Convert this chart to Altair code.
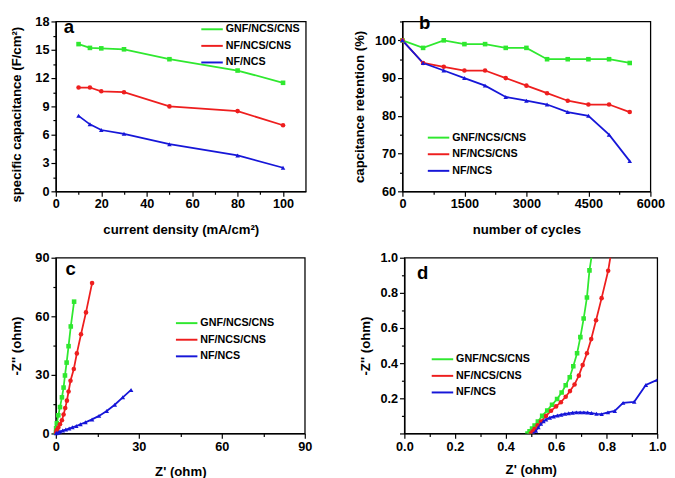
import altair as alt
import pandas as pd

SERIES = ["GNF/NCS/CNS", "NF/NCS/CNS", "NF/NCS"]
COLORS = ["#2fe82f", "#ee1e1e", "#1616d8"]
SHAPES = ["square", "circle", "triangle-up"]
FONT = "Liberation Sans"

# ---------------- panel a ----------------
a_x = [10, 15, 20, 30, 50, 80, 100]
a_gnf = [15.6, 15.2, 15.15, 15.05, 14.0, 12.8, 11.5]
a_nfcns = [11.0, 11.0, 10.6, 10.5, 9.0, 8.5, 7.0]
a_nf = [8.0, 7.1, 6.5, 6.1, 5.0, 3.8, 2.5]

# ---------------- panel b ----------------
b_x = [0, 500, 1000, 1500, 2000, 2500, 3000, 3500, 4000, 4500, 5000, 5500]
b_gnf = [100, 98, 100, 99, 99, 98, 98, 95, 95, 95, 95, 94]
b_nfcns = [100, 94, 93, 92, 92, 90, 88, 86, 84, 83, 83, 81]
b_nf = [100, 94, 92, 90, 88, 85, 84, 83, 81, 80, 75, 68]

# ---------------- panel c ----------------
c_gnf_x = [0.05, 0.1, 0.35, 0.9, 1.5, 2.2, 2.8, 3.3, 3.9, 4.6, 5.4, 6.6]
c_gnf_y = [0.5, 2.7, 5.2, 9.3, 13.5, 18.5, 23.5, 29.7, 36.3, 44.7, 54.8, 67.5]
c_nfcns_x = [0.1, 0.35, 0.9, 1.5, 2.2, 2.8, 3.4, 4.0, 4.6, 5.3, 6.5, 7.6, 9.1, 10.9, 13.1]
c_nfcns_y = [0.5, 1.7, 3.0, 4.7, 6.8, 9.7, 13.0, 16.8, 21.5, 27.0, 33.0, 41.0, 50.8, 62.0, 77.0]
c_nf_x = [0.1, 0.3, 0.9, 1.5, 2.5, 3.6, 4.8, 6.0, 7.4, 8.9, 10.7, 13.1, 15.6, 18.4, 21.3, 24.2, 27.2]
c_nf_y = [0.1, 0.2, 0.5, 1.0, 1.5, 2.0, 2.5, 3.2, 3.8, 4.7, 5.7, 7.2, 9.0, 11.5, 14.7, 18.5, 22.3]

# ---------------- panel d ----------------
d_gnf_x = [0.487, 0.495, 0.505, 0.515, 0.528, 0.545, 0.565, 0.584, 0.604, 0.622, 0.638,
           0.654, 0.668, 0.683, 0.696, 0.709, 0.722, 0.732, 0.745]
d_gnf_y = [0.0, 0.012, 0.028, 0.045, 0.068, 0.10, 0.131, 0.163, 0.196, 0.233, 0.274,
           0.320, 0.382, 0.456, 0.548, 0.654, 0.774, 0.928, 1.05]
d_nfcns_x = [0.50, 0.507, 0.515, 0.527, 0.54, 0.56, 0.58, 0.60, 0.619, 0.638, 0.655,
             0.673, 0.690, 0.705, 0.722, 0.739, 0.758, 0.780, 0.806, 0.82]
d_nfcns_y = [0.0, 0.012, 0.027, 0.047, 0.068, 0.10, 0.129, 0.154, 0.178, 0.209, 0.241,
             0.279, 0.329, 0.389, 0.456, 0.537, 0.644, 0.77, 0.926, 1.05]
d_nf_x = [0.51, 0.52, 0.53, 0.54, 0.55, 0.56, 0.575, 0.59, 0.605, 0.62, 0.635, 0.65, 0.665,
          0.68, 0.695, 0.71, 0.725, 0.74, 0.76, 0.78, 0.805, 0.832, 0.865, 0.909, 0.955, 1.0]
d_nf_y = [0.0, 0.015, 0.035, 0.055, 0.07, 0.08, 0.09, 0.097, 0.102, 0.107, 0.112, 0.115, 0.118,
          0.12, 0.12, 0.12, 0.119, 0.116, 0.112, 0.11, 0.12, 0.128, 0.174, 0.18, 0.276, 0.305]

# tick values (major + minor)
a_xticks = [0, 10, 20, 30, 40, 50, 60, 70, 80, 90, 100]
a_yticks = [0, 1.5, 3, 4.5, 6, 7.5, 9, 10.5, 12, 13.5, 15, 16.5, 18]
b_xticks = [0, 750, 1500, 2250, 3000, 3750, 4500, 5250, 6000]
b_yticks = [60, 65, 70, 75, 80, 85, 90, 95, 100, 105]
c_ticks = [0, 15, 30, 45, 60, 75, 90]
d_ticks = [0, 0.1, 0.2, 0.3, 0.4, 0.5, 0.6, 0.7, 0.8, 0.9, 1.0]


def long(xs_list, ys_list):
    rows = []
    for i, s in enumerate(SERIES):
        for j, (x, y) in enumerate(zip(xs_list[i], ys_list[i])):
            rows.append({"series": s, "x": x, "y": y, "order": j})
    return pd.DataFrame(rows)


def axis(title, values, minor, fmt, tpad, hide_zero=False, title_y=None):
    major = f"round(datum.value/{minor}) % 2 === 0"
    lab = f"({major}) ? datum.label : ''"
    if hide_zero:
        lab = f"({major} && datum.value > 0.001) ? datum.label : ''"
    kw = {}
    if title_y is not None:
        kw["titleY"] = title_y
    return alt.Axis(
        title=title, values=values, format=fmt, labelExpr=lab,
        tickSize={"condition": {"test": major, "value": 5}, "value": 3},
        labelOverlap=False, labelFlush=False, titlePadding=tpad, **kw,
    )


def panel(df, xdom, ydom, xax, yax, letter, lx, ly, tx, ty, w, h, clip=False):
    color = alt.Color("series:N", scale=alt.Scale(domain=SERIES, range=COLORS),
                      legend=alt.Legend(orient="none", legendX=lx, legendY=ly, title=None,
                                        symbolType="stroke", symbolSize=484,
                                        symbolStrokeWidth=2, labelFont=FONT,
                                        labelFontSize=11, labelFontWeight="bold",
                                        labelColor="black", rowPadding=-11.5,
                                        labelOffset=2, labelLimit=300, padding=0))
    x = alt.X("x:Q", scale=alt.Scale(domain=xdom, nice=False, zero=False), axis=xax)
    y = alt.Y("y:Q", scale=alt.Scale(domain=ydom, nice=False, zero=False), axis=yax)
    base = alt.Chart(df)
    layers = [base.mark_line(strokeWidth=1.8, clip=clip).encode(
        x=x, y=y, color=color, order="order:Q")]
    for s, c, sh in zip(SERIES, COLORS, SHAPES):
        layers.append(
            base.transform_filter(alt.datum.series == s).mark_point(
                shape=sh, color=c, filled=True, size=22, opacity=1, clip=clip
            ).encode(x=x, y=y)
        )
    layers.append(alt.Chart(pd.DataFrame({"t": [letter]})).mark_text(
        font=FONT, fontSize=19, fontWeight="bold", align="left", baseline="middle",
        color="black").encode(text="t:N", x=alt.value(tx), y=alt.value(ty)))
    return alt.layer(*layers).properties(width=w, height=h)


dfa = long([a_x, a_x, a_x], [a_gnf, a_nfcns, a_nf])
dfb = long([b_x, b_x, b_x], [b_gnf, b_nfcns, b_nf])
dfc = long([c_gnf_x, c_nfcns_x, c_nf_x], [c_gnf_y, c_nfcns_y, c_nf_y])
dfd = long([d_gnf_x, d_nfcns_x, d_nf_x], [d_gnf_y, d_nfcns_y, d_nf_y])

pa = panel(dfa, [0, 110], [0, 18],
           axis("current density (mA/cm²)", a_xticks, 10, "d", 12),
           axis("specific capacitance (F/cm²)", a_yticks, 1.5, "d", 12, title_y=95),
           "a", 148, -4, 8, 6, 256, 174)
pb = panel(dfb, [0, 6000], [60, 105],
           axis("number of cycles", b_xticks, 750, "d", 12),
           axis("capcitance retention (%)", b_yticks, 5, "d", 8),
           "b", 25, 107, 17, 2, 254, 174)
pc = panel(dfc, [0, 90], [0, 90],
           axis("Z' (ohm)", c_ticks, 15, "d", 12),
           axis("-Z'' (ohm)", c_ticks, 15, "d", 12),
           "c", 122, 55, 10, 12, 255, 180)
pd_ = panel(dfd, [0, 1], [0, 1],
            axis("Z' (ohm)", d_ticks, 0.1, ".1f", 10),
            axis("-Z'' (ohm)", d_ticks, 0.1, ".1f", 8, hide_zero=True),
            "d", 27, 92, 13, 16, 259, 180, clip=True)

RES = dict(color="independent", x="independent", y="independent")
row1 = alt.hconcat(pa, pb, spacing=46).resolve_scale(**RES)
row2 = alt.hconcat(pc, pd_, spacing=46).resolve_scale(**RES)

chart = alt.vconcat(row1, row2, spacing=14, padding=0).resolve_scale(**RES).configure(
    font=FONT, padding=0
).configure_view(
    stroke="black", strokeWidth=1.3
).configure_axis(
    domainColor="black", domainWidth=1.3, tickColor="black", tickWidth=1.2,
    labelColor="black", titleColor="black", labelFont=FONT, titleFont=FONT,
    labelFontSize=13, labelFontWeight="bold", titleFontSize=13.5,
    titleFontWeight="bold", grid=False, labelPadding=2,
)

chart.save("out.html", embed_options={"renderer": "svg", "actions": False})
